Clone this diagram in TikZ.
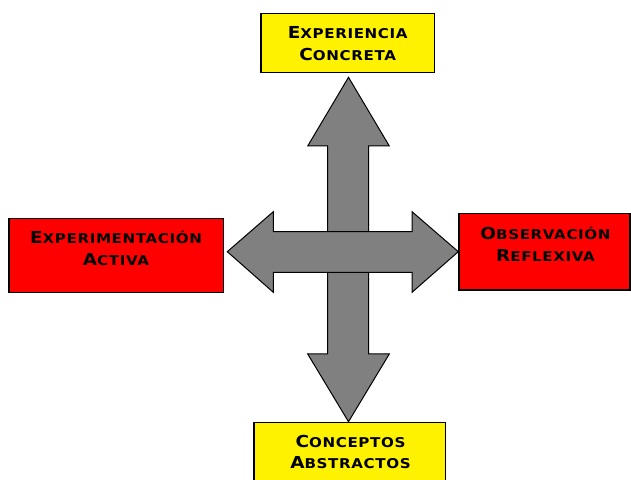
\documentclass[tikz,border=0pt]{standalone}
\usepackage{fontspec}
\newfontfamily\cop{DejaVu Sans}[FakeStretch=1.12, LetterSpace=4.5]
\newcommand{\fsc}[2]{{\fontsize{16.5}{21.5}\selectfont #1}{\fontsize{13.5}{21.5}\selectfont #2}}
\tikzset{
  box/.style={draw=black, line width=1.4pt},
  ybox/.style={box, fill=yellow},
  rbox/.style={box, fill=red},
  lbl/.style={align=center, font=\cop\bfseries\fontsize{13.5}{21.5}\selectfont, inner sep=0pt},
  blockarrow/.style={draw=black, line width=1pt, fill=gray, line join=miter}
}
\begin{document}
\begin{tikzpicture}[x=1pt,y=1pt]
\useasboundingbox (0,0) rectangle (631,479);
% boxes
\draw[ybox] (261,406.3) rectangle (434.3,465.7);
\draw[rbox] (9,186.3) rectangle (223.3,260.7);
\draw[rbox] (459,189) rectangle (630,265.7);
\draw[ybox] (254,-10) rectangle (445.7,56.3);
% labels
\node[lbl] (top) at (347.7,435.5) {\fsc{E}{XPERIENCIA}\\\fsc{C}{ONCRETA}};
\node[lbl] (left) at (116,230.5) {\fsc{E}{XPERIMENTACIÓN}\\\fsc{A}{CTIVA}};
\node[lbl] (right) at (545.5,235) {\fsc{O}{BSERVACIÓN}\\\fsc{R}{EFLEXIVA}};
\node[lbl] (bottom) at (350.5,27) {\fsc{C}{ONCEPTOS}\\\fsc{A}{BSTRACTOS}};
% vertical arrow
\coordinate (vt) at (348.5,401.7);
\coordinate (vb) at (348.5,57.3);
\draw[blockarrow] (vt) -- (389.3,333) -- (368.7,333) -- (368.7,125) -- (389.3,125) -- (vb)
  -- (307.7,125) -- (327.7,125) -- (327.7,333) -- (307.7,333) -- cycle;
% horizontal arrow
\coordinate (hl) at (227.3,227.3);
\coordinate (hr) at (458.3,227.3);
\draw[blockarrow] (hl) -- (273.3,267.3) -- (273.3,247.3) -- (412,247.3) -- (412,267.3) -- (hr)
  -- (412,186.7) -- (412,206.7) -- (273.3,206.7) -- (273.3,186.7) -- cycle;
\end{tikzpicture}
\end{document}
